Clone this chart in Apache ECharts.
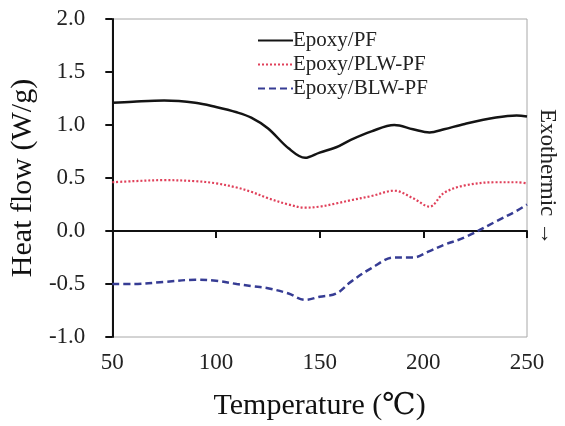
<!DOCTYPE html>
<html>
<head>
<meta charset="utf-8">
<script src="https://cdn.jsdelivr.net/npm/echarts@6/dist/echarts.min.js"></script>
<style>
  html, body { margin: 0; padding: 0; background: #fff; }
</style>
</head>
<body>
<div id="main" style="width: 565px; height: 426px"></div>
<script>
// temperature (℃) and heat flow (W/g)
const temps = [50, 60, 75, 90, 100, 110, 117, 125, 135, 143, 150, 158, 165, 175, 186, 195, 203, 210, 220, 235, 245, 250]
const epoxyPF = [1.21, 1.22, 1.23, 1.21, 1.17, 1.12, 1.07, 0.97, 0.78, 0.69, 0.74, 0.79, 0.86, 0.94, 1.00, 0.96, 0.93, 0.96, 1.01, 1.07, 1.09, 1.08]
const epoxyPLW = [0.46, 0.47, 0.48, 0.47, 0.45, 0.41, 0.37, 0.31, 0.25, 0.22, 0.23, 0.26, 0.29, 0.33, 0.38, 0.31, 0.23, 0.36, 0.43, 0.46, 0.46, 0.45]
const epoxyBLW = [-0.50, -0.50, -0.48, -0.46, -0.47, -0.50, -0.52, -0.54, -0.59, -0.65, -0.62, -0.59, -0.48, -0.35, -0.25, -0.25, -0.19, -0.13, -0.06, 0.09, 0.19, 0.25]
const seriesNames = ['Epoxy/PF', 'Epoxy/PLW-PF', 'Epoxy/BLW-PF']

const pairs = (ys) => temps.map((t, i) => [t, ys[i]])
const serif = '"Liberation Serif", "DejaVu Serif", serif'

var myChart = echarts.init(document.getElementById('main'))
var option = {
  animation: false,
  textStyle: { fontFamily: serif },
  grid: {
    left: 110, right: 38, top: 19, bottom: 86,
    show: true, borderColor: '#a8a8a8', borderWidth: 1
  },
  legend: {
    data: seriesNames,
    orient: 'vertical',
    left: 252,
    top: 25,
    itemWidth: 35,
    itemHeight: 12,
    itemGap: 3,
    itemStyle: { opacity: 0 },
    textStyle: { fontFamily: serif, fontSize: 21, color: '#222', padding: [0, 0, 0, -5] }
  },
  xAxis: {
    type: 'value',
    min: 50, max: 250, interval: 50,
    name: 'Temperature (℃)',
    nameLocation: 'middle',
    nameGap: 54,
    nameTextStyle: { fontFamily: serif, fontSize: 30, color: '#111' },
    axisLine: { lineStyle: { color: '#111', width: 2 } },
    axisTick: { length: 7, lineStyle: { color: '#111', width: 2 } },
    axisLabel: { margin: 14, fontSize: 23, color: '#222', fontFamily: serif },
    splitLine: { show: false }
  },
  yAxis: {
    type: 'value',
    min: -1, max: 2, interval: 0.5,
    name: 'Heat flow (W/g)',
    nameLocation: 'middle',
    nameRotate: 90,
    nameGap: 66,
    nameTextStyle: { fontFamily: serif, fontSize: 30, color: '#111' },
    axisLine: { lineStyle: { color: '#111', width: 2 } },
    axisTick: { length: 7, lineStyle: { color: '#111', width: 2 } },
    axisLabel: {
      margin: 27, fontSize: 23, color: '#222', fontFamily: serif,
      formatter: (v) => v.toFixed(1)
    },
    splitLine: { show: false }
  },
  graphic: [
    {
      type: 'text',
      x: 536, y: 177,
      rotation: -Math.PI / 2,
      style: {
        text: 'Exothermic →',
        font: '23px ' + serif,
        fill: '#222',
        align: 'center',
        verticalAlign: 'bottom'
      }
    }
  ],
  series: [
    {
      name: seriesNames[0],
      type: 'line',
      smooth: 0.35,
      symbol: 'none',
      itemStyle: { color: '#141414' },
      lineStyle: { color: '#141414', width: 2.5 },
      data: pairs(epoxyPF)
    },
    {
      name: seriesNames[1],
      type: 'line',
      smooth: 0.35,
      symbol: 'none',
      itemStyle: { color: '#e0405a' },
      lineStyle: { color: '#e0405a', width: 2.2, type: [2, 2] },
      data: pairs(epoxyPLW)
    },
    {
      name: seriesNames[2],
      type: 'line',
      smooth: 0.35,
      symbol: 'none',
      itemStyle: { color: '#363c94' },
      lineStyle: { color: '#363c94', width: 2.5, type: [7, 4] },
      data: pairs(epoxyBLW)
    }
  ]
}
myChart.setOption(option)
</script>
</body>
</html>
